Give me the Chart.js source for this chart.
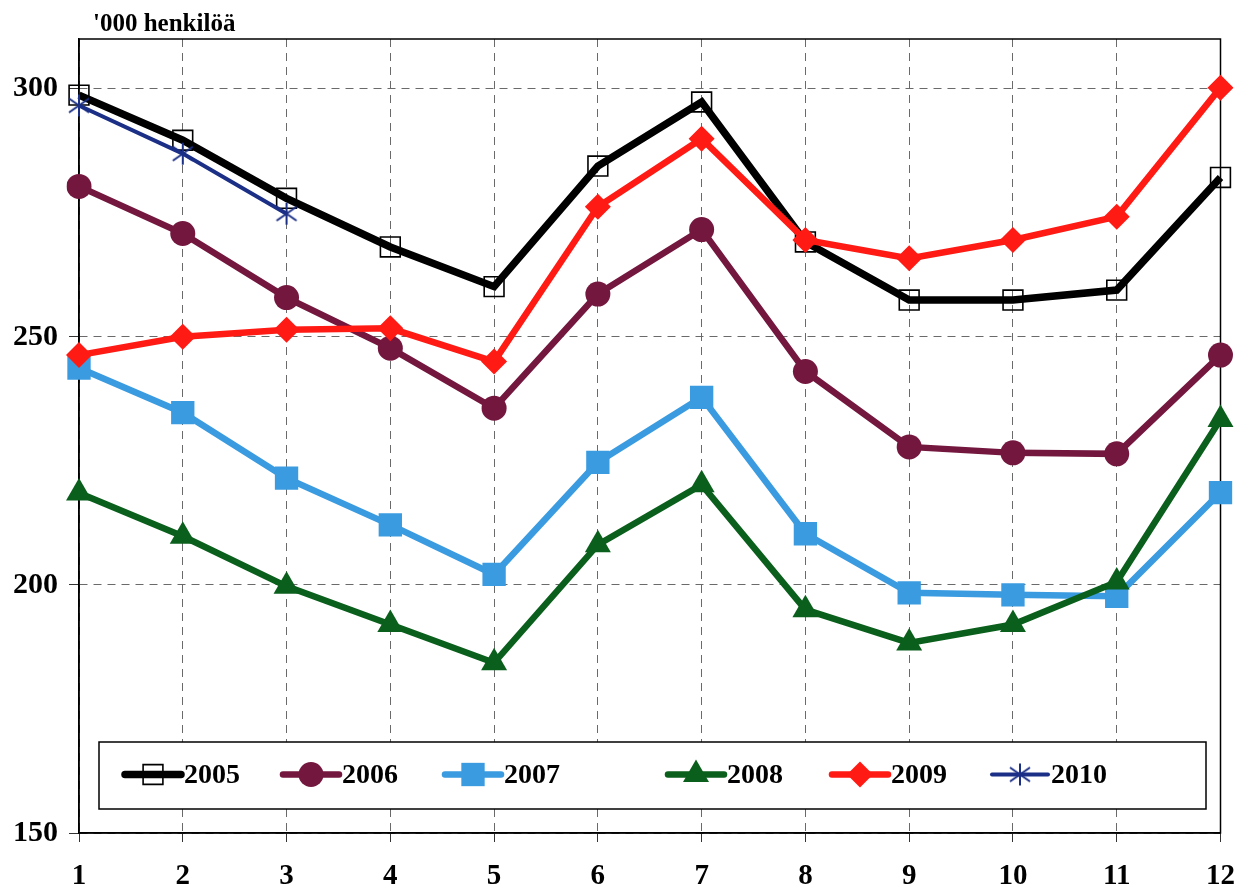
<!DOCTYPE html>
<html>
<head>
<meta charset="utf-8">
<script src="https://cdn.jsdelivr.net/npm/chart.js@4.4.1/dist/chart.umd.min.js"></script>
<style>
  html, body { margin: 0; padding: 0; background: #fff; }
</style>
</head>
<body>
<canvas id="chart" width="1237" height="891"></canvas>
<script>
// months along the x axis
let months = ['1', '2', '3', '4', '5', '6', '7', '8', '9', '10', '11', '12'];
let years = ['2005', '2006', '2007', '2008', '2009', '2010'];

// thousands of persons
let v2005 = [298.7, 289.6, 277.9, 268.1, 260.1, 284.4, 297.3, 269.1, 257.4, 257.4, 259.4, 282.1];
let v2006 = [280.3, 270.8, 257.9, 247.7, 235.6, 258.6, 271.6, 243.0, 227.8, 226.6, 226.4, 246.3];
let v2007 = [243.7, 234.7, 221.5, 212.1, 202.1, 224.7, 237.8, 210.3, 198.4, 198.0, 197.7, 218.6];
let v2008 = [218.5, 209.8, 199.7, 192.0, 184.3, 208.1, 220.2, 195.0, 188.3, 192.0, 200.6, 233.3];
let v2009 = [246.3, 250.0, 251.4, 251.7, 245.0, 276.2, 289.9, 269.5, 265.8, 269.5, 274.2, 300.2];
let v2010 = [296.6, 286.9, 274.8, null, null, null, null, null, null, null, null, null];

let yTicks = [150, 200, 250, 300];
let unitLabel = "'000 henkilöä";

let serif = "'Liberation Serif', 'Times New Roman', serif";

function makeStar(color) {
    let c = document.createElement('canvas');
    c.width = 24;
    c.height = 24;
    let g = c.getContext('2d');
    g.strokeStyle = color;
    g.lineWidth = 2;
    g.beginPath();
    g.moveTo(12, 1); g.lineTo(12, 23);
    g.moveTo(2, 5); g.lineTo(22, 19);
    g.moveTo(22, 5); g.lineTo(2, 19);
    g.stroke();
    return c;
}

function series(i, data, color, style, radius, width, fill, borderW) {
    return {
        label: years[i],
        data: data,
        borderColor: color,
        backgroundColor: color,
        borderWidth: width,
        pointStyle: style,
        pointRadius: radius,
        pointBackgroundColor: fill,
        pointBorderColor: color,
        pointBorderWidth: borderW,
        tension: 0,
        spanGaps: false,
        order: 10 - i
    };
}

let datasets = [
    series(0, v2005, '#000000', 'rect', 14, 7.5, 'rgba(0,0,0,0)', 1.6),
    series(1, v2006, '#74173f', 'circle', 12.5, 6.5, '#74173f', 0),
    series(2, v2007, '#3a9be0', 'rect', 16.5, 6.5, '#3a9be0', 0),
    series(3, v2008, '#0b5f1c', 'triangle', 15, 6.5, '#0b5f1c', 0),
    series(4, v2009, '#ff1a14', 'rectRot', 13, 6.5, '#ff1a14', 0),
    series(5, v2010, '#1b2f86', makeStar('#1b2f86'), 12, 4, '#1b2f86', 0)
];

// legend box sits inside the plot area
let legendBox = { left: 99, top: 742, right: 1206, bottom: 809 };
let legendLineX = [125, 283, 445, 668, 832, 992];
let legendLineLen = 56;

let framePlugin = {
    id: 'frame',
    beforeDatasetsDraw(chart) {
        let ctx = chart.ctx;
        let a = chart.chartArea;
        ctx.save();
        ctx.strokeStyle = '#000';
        ctx.lineWidth = 1.5;
        ctx.strokeRect(a.left, a.top, a.right - a.left, a.bottom - a.top);
        ctx.restore();
    },
    afterDraw(chart) {
        let ctx = chart.ctx;
        ctx.save();
        // unit label above the axis
        ctx.fillStyle = '#000';
        ctx.font = 'bold 25px ' + serif;
        ctx.textBaseline = 'alphabetic';
        ctx.fillText(unitLabel, 93, 31);

        // legend
        let b = legendBox;
        ctx.fillStyle = '#fff';
        ctx.fillRect(b.left, b.top, b.right - b.left, b.bottom - b.top);
        ctx.strokeStyle = '#000';
        ctx.lineWidth = 1.5;
        ctx.strokeRect(b.left, b.top, b.right - b.left, b.bottom - b.top);
        let cy = (b.top + b.bottom) / 2 - 1;
        chart.data.datasets.forEach((ds, i) => {
            let x0 = legendLineX[i];
            ctx.save();
            ctx.strokeStyle = ds.borderColor;
            ctx.lineWidth = ds.borderWidth;
            ctx.lineCap = 'round';
            ctx.beginPath();
            ctx.moveTo(x0, cy);
            ctx.lineTo(x0 + legendLineLen, cy);
            ctx.stroke();
            ctx.fillStyle = ds.pointBackgroundColor;
            ctx.strokeStyle = ds.pointBorderColor;
            ctx.lineWidth = ds.pointBorderWidth;
            Chart.helpers.drawPoint(ctx, {
                pointStyle: ds.pointStyle,
                radius: ds.pointRadius,
                rotation: 0,
                borderWidth: ds.pointBorderWidth
            }, x0 + legendLineLen / 2, cy);
            ctx.restore();
            ctx.fillStyle = '#000';
            ctx.font = 'bold 28px ' + serif;
            ctx.textBaseline = 'middle';
            ctx.textAlign = 'left';
            ctx.fillText(ds.label, x0 + legendLineLen + 3, cy + 1);
        });
        ctx.restore();
    }
};

let myChart = new Chart(document.getElementById('chart').getContext('2d'), {
    type: 'line',
    data: {
        labels: months,
        datasets: datasets
    },
    options: {
        responsive: false,
        animation: false,
        events: [],
        layout: {
            padding: { left: 0, top: 39, right: 13, bottom: 0 }
        },
        plugins: {
            legend: { display: false },
            tooltip: { enabled: false },
            title: { display: false }
        },
        scales: {
            x: {
                offset: false,
                grid: {
                    color: '#6a6a6a',
                    lineWidth: 1,
                    tickLength: 9,
                    tickColor: '#333',
                    tickBorderDash: [],
                    offset: false
                },
                border: { display: true, color: '#000', width: 1.5, dash: [8, 6] },
                ticks: {
                    color: '#000',
                    font: { family: serif, size: 29, weight: 'bold' },
                    padding: 17,
                    maxRotation: 0,
                    autoSkip: false
                },
                afterFit(scale) {
                    scale.height = 58;
                    scale.paddingLeft = 0;
                    scale.paddingRight = 0;
                }
            },
            y: {
                min: 150,
                max: 310,
                grid: {
                    color: '#6a6a6a',
                    lineWidth: 1,
                    tickLength: 10,
                    tickColor: '#333',
                    tickBorderDash: []
                },
                border: { display: true, color: '#000', width: 1.5, dash: [8, 6] },
                ticks: {
                    stepSize: 50,
                    color: '#000',
                    font: { family: serif, size: 30, weight: 'bold' },
                    padding: 11
                },
                afterBuildTicks(scale) {
                    scale.ticks = yTicks.map(v => ({ value: v }));
                },
                afterFit(scale) { scale.width = 79; }
            }
        }
    },
    plugins: [framePlugin]
});
</script>
</body>
</html>
